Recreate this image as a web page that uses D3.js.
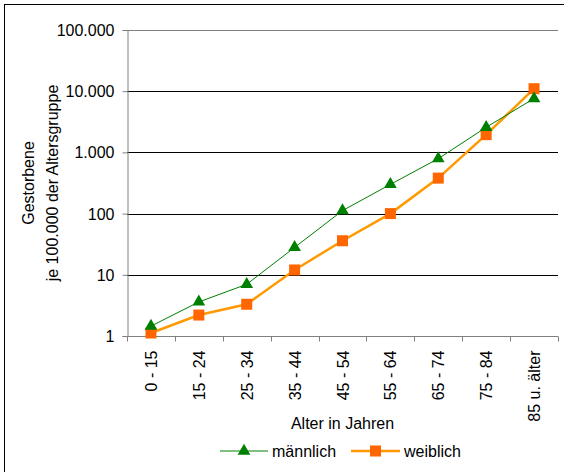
<!DOCTYPE html>
<html>
<head>
<meta charset="utf-8">
<script src="https://cdn.jsdelivr.net/npm/d3@7"></script>
<style>
  body { margin: 0; background: #fff; }
  svg text { font-family: Arial, "Liberation Sans", sans-serif; }
</style>
</head>
<body>
<script>
// Altersgruppen und Sterbefälle je 100.000
let categories = ["0 - 15", "15 - 24", "25 - 34", "35 - 44", "45 - 54", "55 - 64", "65 - 74", "75 - 84", "85 u. älter"];
let maleValues = [1.45, 3.6, 7.0, 28, 112, 300, 790, 2570, 7600];
let femaleValues = [1.12, 2.2, 3.3, 12, 36, 100, 380, 1950, 11000];
let yTicks = [1, 10, 100, 1000, 10000, 100000];

let width = 564, height = 472;
let margin = {top: 30, right: 6, bottom: 136, left: 127};
let fs = 16;

let svg = d3.select("body").append("svg")
    .attr("width", width)
    .attr("height", height);

svg.append("rect")
    .attr("x", 4.5).attr("y", 4.5)
    .attr("width", 580).attr("height", 500)
    .attr("fill", "none")
    .attr("stroke", "#000");

let x = d3.scaleBand(categories, [margin.left, width - margin.right]);
let y = d3.scaleLog([1, 100000], [height - margin.bottom, margin.top]);
let fmt = d3.formatLocale({decimal: ",", thousands: ".", grouping: [3]}).format(",d");

// gridlines
svg.append("g")
    .selectAll("line")
    .data(yTicks.slice(1))
    .join("line")
      .attr("x1", margin.left)
      .attr("x2", width - margin.right)
      .attr("y1", d => Math.round(y(d)) + 0.5)
      .attr("y2", d => Math.round(y(d)) + 0.5)
      .attr("stroke", (d, i) => i == yTicks.length - 2 ? "#808080" : "#000");

// y axis
svg.append("g")
    .attr("transform", `translate(${margin.left + 0.5},0)`)
    .call(d3.axisLeft(y).tickValues(yTicks).tickFormat(fmt).tickSize(5).tickPadding(8))
    .call(g => g.attr("font-family", null).attr("font-size", null))
    .call(g => g.select(".domain").attr("stroke", "#808080"))
    .call(g => g.selectAll(".tick line").attr("stroke", "#808080"))
    .call(g => g.selectAll("text").attr("font-size", fs).attr("fill", "#000").attr("dy", "0.34em"));

// x axis
let xAxisG = svg.append("g")
    .attr("transform", `translate(0,${Math.round(y(1)) + 0.5})`);
xAxisG.append("line")
    .attr("x1", margin.left).attr("x2", width - margin.right)
    .attr("stroke", "#808080");
xAxisG.selectAll(".tk")
    .data(categories.map(c => x(c)).concat([width - margin.right]))
    .join("line")
      .attr("class", "tk")
      .attr("x1", d => Math.round(d) + 0.5).attr("x2", d => Math.round(d) + 0.5)
      .attr("y1", 0).attr("y2", 5)
      .attr("stroke", "#808080");
xAxisG.selectAll("text")
    .data(categories)
    .join("text")
      .attr("transform", d => `translate(${x(d) + x.bandwidth() / 2 + 6},14) rotate(-90)`)
      .attr("text-anchor", "end")
      .attr("font-size", fs)
      .text(d => d);

// axis titles
let cy = (margin.top + height - margin.bottom) / 2;
svg.append("text")
    .attr("transform", `translate(34,${cy}) rotate(-90)`)
    .attr("text-anchor", "middle")
    .attr("font-size", fs)
    .text("Gestorbene");
svg.append("text")
    .attr("transform", `translate(58,${cy}) rotate(-90)`)
    .attr("text-anchor", "middle")
    .attr("font-size", fs)
    .text("je 100.000 der Altersgruppe");
svg.append("text")
    .attr("x", (margin.left + width - margin.right) / 2)
    .attr("y", 429)
    .attr("text-anchor", "middle")
    .attr("font-size", fs)
    .text("Alter in Jahren");

let cx = d => x(d) + x.bandwidth() / 2;
let line = d3.line().x(d => cx(d[0])).y(d => y(d[1]));
let triangle = d3.symbol(d3.symbolTriangle, 70);

// weiblich
let femaleData = categories.map((c, i) => [c, femaleValues[i]]);
svg.append("path")
    .attr("d", line(femaleData))
    .attr("fill", "none")
    .attr("stroke", "#ff9900")
    .attr("stroke-width", 2.5);
svg.append("g").selectAll("rect")
    .data(femaleData)
    .join("rect")
      .attr("x", d => cx(d[0]) - 5.5)
      .attr("y", d => y(d[1]) - 5.5)
      .attr("width", 11).attr("height", 11)
      .attr("fill", "#ff6600");

// männlich
let maleData = categories.map((c, i) => [c, maleValues[i]]);
svg.append("path")
    .attr("d", line(maleData))
    .attr("fill", "none")
    .attr("stroke", "#008000")
    .attr("stroke-width", 1);
svg.append("g").selectAll("path")
    .data(maleData)
    .join("path")
      .attr("d", triangle)
      .attr("transform", d => `translate(${cx(d[0])},${y(d[1])})`)
      .attr("fill", "#008000");

// legend
let leg = svg.append("g").attr("transform", "translate(0,451)");
leg.append("line").attr("x1", 220).attr("x2", 268).attr("stroke", "#008000");
leg.append("path").attr("d", triangle).attr("transform", "translate(244,0)").attr("fill", "#008000");
leg.append("text").attr("x", 272).attr("y", 6).attr("font-size", fs).text("männlich");
leg.append("line").attr("x1", 351).attr("x2", 400).attr("stroke", "#ff9900").attr("stroke-width", 2.5);
leg.append("rect").attr("x", 370).attr("y", -5.5).attr("width", 11).attr("height", 11).attr("fill", "#ff6600");
leg.append("text").attr("x", 404).attr("y", 6).attr("font-size", fs).text("weiblich");
</script>
</body>
</html>
